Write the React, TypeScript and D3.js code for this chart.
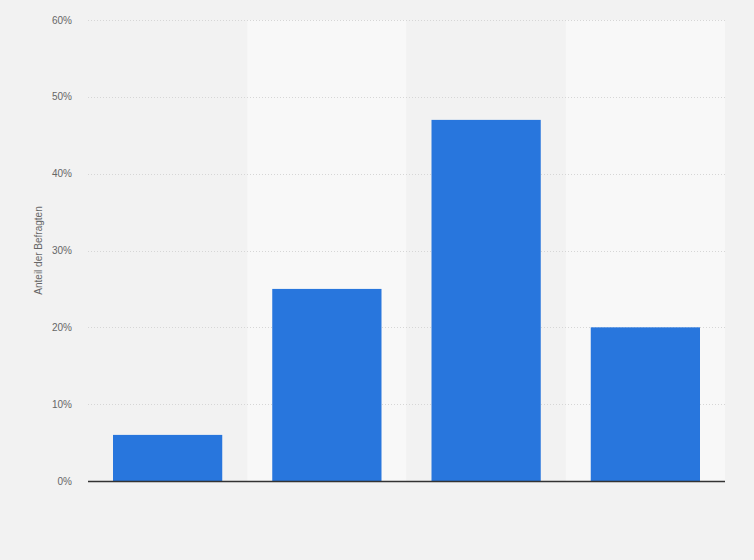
import React from 'react';
import * as d3 from 'd3';

const categories = ['A', 'B', 'C', 'D'];
const shares = [6, 25, 47, 20];
const yTicks = [0, 10, 20, 30, 40, 50, 60];
const yTitle = 'Anteil der Befragten';

const W = 754;
const H = 560;
const margin = { top: 20, right: 29, bottom: 79, left: 88 };

const App: React.FC = () => {
  const x = d3.scaleBand<string>()
    .domain(categories)
    .range([margin.left, W - margin.right])
    .paddingInner(0)
    .paddingOuter(0);

  const y = d3.scaleLinear()
    .domain([0, 60])
    .range([H - margin.bottom, margin.top]);

  const inset = x.bandwidth() * 0.157;
  const font = '"Liberation Sans", Arial, sans-serif';

  return (
    <div style={{ position: 'fixed', left: 0, top: 0, width: W, height: H, background: '#f2f2f2' }}>
      <svg width={W} height={H} style={{ display: 'block' }}>
        {/* alternating column bands */}
        {categories.map((c, i) => (
          <rect
            key={'band' + c}
            x={x(c)}
            y={y(60)}
            width={x.bandwidth()}
            height={y(0) - y(60)}
            fill={i % 2 === 1 ? '#f8f8f8' : '#f2f2f2'}
          />
        ))}

        {/* grid */}
        {yTicks.filter(t => t > 0).map(t => (
          <line
            key={'g' + t}
            x1={margin.left}
            x2={W - margin.right}
            y1={Math.round(y(t)) + 0.5}
            y2={Math.round(y(t)) + 0.5}
            stroke="#d6d6d6"
            strokeDasharray="1,2"
          />
        ))}

        {/* tick labels */}
        {yTicks.map(t => (
          <text
            key={'t' + t}
            x={72}
            y={y(t)}
            dy="0.35em"
            textAnchor="end"
            fontFamily={font}
            fontSize={10}
            fill="#666"
          >
            {t + '%'}
          </text>
        ))}

        {/* bars */}
        {categories.map((c, i) => (
          <rect
            key={'bar' + c}
            x={(x(c) ?? 0) + inset}
            y={y(shares[i])}
            width={x.bandwidth() - 2 * inset}
            height={y(0) - y(shares[i])}
            fill="#2876dd"
          />
        ))}

        {/* baseline */}
        <line
          x1={margin.left}
          x2={W - margin.right}
          y1={y(0) + 0.5}
          y2={y(0) + 0.5}
          stroke="#333"
          strokeWidth={1.3}
        />

        {/* y axis title */}
        <text
          transform={`translate(42,${(y(0) + y(60)) / 2}) rotate(-90)`}
          textAnchor="middle"
          fontFamily={font}
          fontSize={10}
          fill="#666"
        >
          {yTitle}
        </text>
      </svg>
    </div>
  );
};

export default App;
